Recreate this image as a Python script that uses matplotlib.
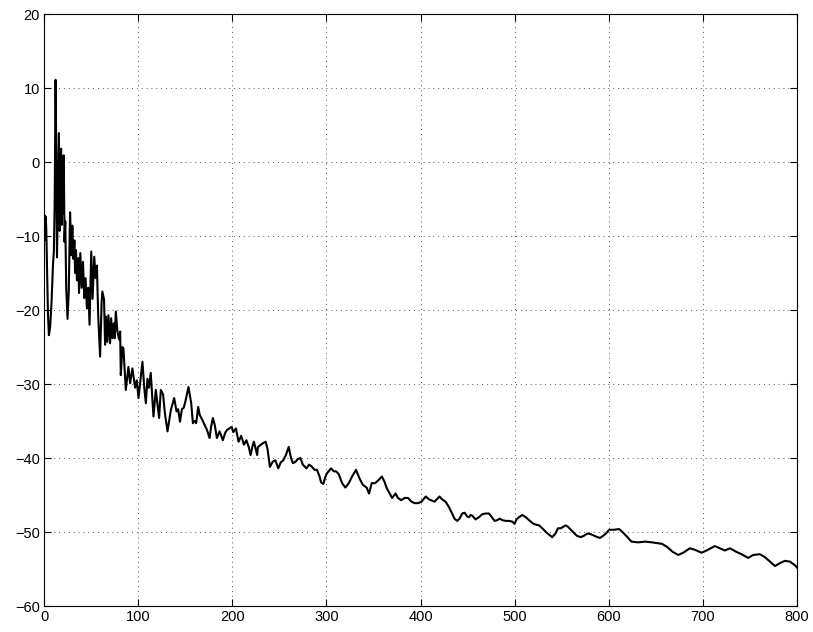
import matplotlib
matplotlib.use("Agg")
import matplotlib.pyplot as plt

freq = [0, 0.6, 1.2, 1.8, 2.4, 3.2, 4.2, 5.2, 6.5, 8, 9.5, 10.5, 11.3, 12.3, 13.0, 13.8,
        14.8, 15.8, 16.6, 17.4, 18.2, 18.9, 19.6, 20.3, 21, 21.8, 22.6, 23.6, 25, 26.3,
        27.7, 29.1, 30.1, 31.2, 32.3, 33, 34, 35, 36.5, 37.2, 38.6, 40, 41.4, 42.8, 44.2,
        45.6, 47, 48.4, 50.2, 51.6, 53.4, 54.8, 56.2, 57.6, 59.6, 61.2, 62, 63.8, 64.9,
        65.8, 67.2, 68.4, 70.2, 71.3, 72.7, 74.1, 75.2, 76.3, 78, 79.8, 80.9, 81.6, 83.3,
        84.4, 86.9, 89.7, 91.5, 93.9, 96.8, 98.6, 100.4, 102.1, 104.6, 106.5, 108.2,
        109.9, 111.5, 113.4, 116.3, 118.8, 122.3, 124.1, 126.5, 128.5, 131.2, 134.8,
        138.3, 140.8, 142.5, 144.5, 146.5, 148.5, 150.5, 153.5, 156.4, 158.2, 160,
        161.7, 163.8, 165.5, 168.4, 170.5, 173.1, 175.9, 177.5, 179.4, 181.5, 183.7,
        186.5, 190, 192.5, 194.5, 197, 199.3, 201.1, 203.9, 206.7, 209.5, 212.4, 215,
        217.5, 219.5, 221.5, 223, 225, 226.5, 227.3, 232.6, 235.5, 237.5, 240, 243,
        245.8, 248.9, 251.5, 254.2, 257, 260, 262.4, 264.5, 267.4, 269.1, 272.4, 275,
        278.8, 281.6, 284, 287.5, 290, 292.8, 294.4, 296.8, 298.6, 300.4, 305, 307.8,
        310.3, 313.2, 316.7, 320.2, 323.8, 327.3, 331.5, 335, 338.6, 342.8, 345.3,
        348.2, 351.7, 355.3, 359, 361.7, 364.2, 369.9, 373.5, 376, 379.6, 383.2, 386.8,
        390.4, 393.9, 397.5, 401, 405.6, 409.2, 414.9, 420.2, 423, 426.6, 430.1, 433.6,
        436.1, 439, 441.5, 444.3, 446.8, 449.6, 451.4, 453.2, 455, 458.5, 462, 465.6,
        469.2, 472.7, 475.2, 478.7, 481.6, 484, 487, 490.5, 494, 497.6, 499.9, 502,
        504.6, 508.2, 511.8, 515.3, 518.9, 522.3, 525.9, 529.4, 534, 540, 543.5, 546,
        549, 551.7, 554.2, 556.7, 561.3, 566, 570.2, 573.8, 577.4, 581, 584.5, 588,
        590.8, 594.3, 597.8, 600.3, 605.6, 611, 614.5, 619.9, 624.1, 631.2, 638.8,
        645.9, 656.5, 661.8, 668.2, 673.8, 679.1, 686.2, 691.5, 698.6, 703.9, 712.7,
        718, 723.4, 728.7, 735.8, 741.1, 748.2, 753.5, 760.6, 765.9, 771.2, 776.6,
        781.9, 787.2, 792.5, 797.9, 800]

level = [-7.6, -7.2, -10.5, -7.4, -9, -14, -20.5, -23.4, -22.3, -19, -14, -12, -6, 11.1,
         2, -12.9, -4, 3.9, -9.3, 0, 1.8, -8.5, 0.8, -7, 0.9, -10.8, -8, -17, -21.2,
         -17.5, -6.8, -12.6, -8.6, -13.1, -10.6, -15, -11.9, -16, -13, -17.7, -12.3,
         -17, -13.5, -18.4, -15.7, -19.8, -17, -22, -12.1, -18.5, -12.8, -15.7, -14,
         -20.8, -26.3, -19, -17.5, -18.6, -24.7, -20.9, -24.3, -20.7, -24.5, -21.1,
         -23.8, -21.8, -23.8, -20.2, -22.9, -24, -22.9, -28.8, -25, -25.2, -30.8, -27.7,
         -29.9, -27.9, -30.5, -29.5, -31.9, -29.9, -27, -30.5, -32.6, -29.3, -30.5,
         -28.5, -34.4, -30.8, -34.6, -30.8, -31.4, -34, -36.4, -33.5, -31.9, -33.7,
         -33.4, -35.1, -33.4, -33.2, -32.2, -30.4, -32.6, -35.3, -35, -35.3, -33.1,
         -34.2, -34.9, -35.5, -36.2, -37.3, -35.8, -34.6, -35.6, -37.3, -36.4, -37.6,
         -36.6, -36.2, -36.0, -35.8, -36.5, -36.0, -37.8, -37.0, -38.2, -37.6, -38.5,
         -39.6, -38.4, -37.8, -38.8, -39.6, -38.5, -38, -37.8, -38.8, -41.2, -40.5,
         -40.3, -41.4, -40.6, -40.3, -39.6, -38.5, -40, -40.7, -40.5, -40.2, -40, -40.9,
         -41.4, -40.9, -41.1, -41.6, -41.6, -42.5, -43.3, -43.5, -42.7, -42.1, -41.4,
         -41.8, -41.8, -42.2, -43.4, -44, -43.4, -42.5, -41.6, -42.7, -43.6, -44,
         -44.8, -43.4, -43.4, -43, -42.5, -43.2, -44.1, -45.4, -44.8, -45.4, -45.7,
         -45.4, -45.4, -45.9, -46.1, -46.1, -45.9, -45.2, -45.6, -45.9, -45.2, -45.6,
         -45.9, -46.6, -47.5, -48.2, -48.5, -48.2, -47.5, -47.4, -47.9, -48, -47.7,
         -47.8, -48.3, -48, -47.6, -47.5, -47.5, -47.9, -48.5, -48.4, -48.2, -48.4,
         -48.5, -48.5, -48.6, -48.9, -48.3, -48, -47.7, -48, -48.4, -48.8, -49, -49.1,
         -49.5, -50.1, -50.7, -50.2, -49.5, -49.5, -49.3, -49.1, -49.3, -49.9, -50.5,
         -50.7, -50.5, -50.2, -50.3, -50.5, -50.7, -50.8, -50.5, -50.1, -49.7, -49.7,
         -49.6, -50, -50.7, -51.3, -51.4, -51.3, -51.4, -51.6, -52, -52.7, -53.1,
         -52.8, -52.2, -52.4, -52.8, -52.5, -51.9, -52.2, -52.5, -52.2, -52.7, -53,
         -53.5, -53.1, -53.0, -53.4, -54.0, -54.6, -54.2, -53.9, -54.0, -54.5, -54.8]

xticks = [0, 100, 200, 300, 400, 500, 600, 700, 800]
yticks = [-60, -50, -40, -30, -20, -10, 0, 10, 20]

plt.rcParams['font.family'] = ['Liberation Sans', 'DejaVu Sans']
fig = plt.figure(figsize=(8.13, 6.32), dpi=100)
ax = fig.add_axes([44/813, 26/632, (797-44)/813, (606-14)/632])
ax.plot(freq, level, color='black', linewidth=1.5)
ax.set_xlim(0, 800)
ax.set_ylim(-60, 20)
ax.set_xticks(xticks)
ax.set_yticks(yticks)
ax.set_xticklabels([str(t) for t in xticks])
ax.set_yticklabels([str(t).replace('-', '\u2212') for t in yticks])
ax.grid(True, color='#555555', linestyle=(0, (1, 4)), linewidth=0.7)
ax.tick_params(direction='in', top=True, right=True, length=5, width=0.8,
               labelsize=10.5, pad=3)
for s in ax.spines.values():
    s.set_linewidth(0.8)
fig.savefig('out.png', dpi=100)
